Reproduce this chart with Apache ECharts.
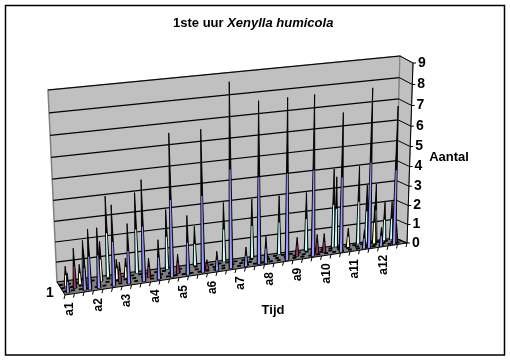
<!DOCTYPE html>
<html>
<head>
<meta charset="utf-8">
<style>html,body{margin:0;padding:0;background:#fff}#c{width:510px;height:360px}</style>
<script src="https://cdn.jsdelivr.net/npm/echarts@6/dist/echarts.min.js"></script>
</head>
<body>
<div id="c"></div>
<script>
// --- data ---
const timeLabels = ['a1','a2','a3','a4','a5','a6','a7','a8','a9','a10','a11','a12'];
const valueTicks = [0,1,2,3,4,5,6,7,8,9];
const depthLabel = '1';
const titlePlain = '1ste uur ';
const titleItalic = 'Xenylla humicola';
const xName = 'Tijd';
const yName = 'Aantal';
// each series: [position on the Tijd axis, count]
const seriesBlue = [[0.42,1],[2.21,2],[2.74,3],[3.69,3],[5.27,4],[6.85,3],[8.43,5],[10.01,2],[11.39,7],[13.07,3],[14.65,7],[16.13,1],[17.6,9],[19.19,1],[20.56,8],[21.29,1.4],[23.51,8],[26.25,8],[29.2,7],[31.63,1],[32.15,8],[33.42,1],[34.79,7]];
const seriesMaroon = [[1.37,2],[2.96,1],[6.13,1],[9.2,1],[12.26,1],[15.33,0.5],[24.85,1],[26.96,1],[27.7,1],[35.31,1]];
const seriesCream = [[0.64,1],[2.12,1],[4.35,2],[6.04,1],[7,1],[30.54,1],[33.3,2]];
const seriesCyan = [[2.77,2],[5.32,4],[8.4,4],[11.6,3],[14.57,2],[17.66,3],[20.64,3],[23.51,3],[26.38,3],[29.26,4],[29.55,3.6],[31.91,4],[32.77,3],[33.72,3],[34.68,2],[35.43,2]];

// --- 3D box layout (pixels of the box corners) ---
const BOX = {
  fbl:[65,295], fbr:[407,243], ftl:[56,102], ftr:[413,63],
  bbl:[57,282], bbr:[395,238], btl:[48,90], btr:[400,56]
};
const X_MAX = 36, Y_MAX = 9, SPIKE_HALF = 0.2, CORE_HALF = 0.12, CORE_TOP_HALF = 0.055, CORE_SHARE = 0.55;
const lerp = (a,b,t)=>[a[0]+(b[0]-a[0])*t, a[1]+(b[1]-a[1])*t];
function proj(u,d,t){
  t = t + 0.08*t*(t-1);
  const f = lerp(lerp(BOX.fbl,BOX.fbr,u), lerp(BOX.ftl,BOX.ftr,u), t);
  const b = lerp(lerp(BOX.bbl,BOX.bbr,u), lerp(BOX.btl,BOX.btr,u), t);
  return lerp(f,b,d);
}
// data -> pixel: goes through the hidden cartesian axes, then through the box
function mapper(params,api){
  const cs = params.coordSys;
  return (x,d,v)=>{
    const p = api.coord([x,v]);
    return proj((p[0]-cs.x)/cs.width, d, (cs.y+cs.height-p[1])/cs.height);
  };
}
const FONT = '"Liberation Sans", Arial, sans-serif';
const line = (a,b,stroke,w,dash)=>({type:'line',silent:true,shape:{x1:a[0],y1:a[1],x2:b[0],y2:b[1]},style:{stroke,lineWidth:w,lineDash:dash||null}});
const poly = (pts,fill,stroke,w)=>({type:'polygon',silent:true,shape:{points:pts},style:{fill,stroke,lineWidth:w,lineJoin:'miter',miterLimit:30}});
const txt = (x,y,text,size,rot,align,va)=>({type:'text',silent:true,x,y,rotation:rot||0,style:{text,x:0,y:0,font:'bold '+size+'px '+FONT,fill:'#000',align:align||'center',verticalAlign:va||'middle'}});

function spikeSeries(name,data,depth,color){
  return {
    type:'custom',name,coordinateSystem:'cartesian2d',silent:true,animation:false,clip:false,
    data,encode:{x:0,y:1},
    renderItem(params,api){
      const m = mapper(params,api);
      const x = api.value(0), v = api.value(1), h = v*CORE_SHARE;
      return {type:'group',children:[
        poly([m(x-SPIKE_HALF,depth,0), m(x,depth,v), m(x+SPIKE_HALF,depth,0)],'#000','#000',0.9),
        poly([m(x-CORE_HALF,depth,0), m(x-CORE_TOP_HALF,depth,h), m(x+CORE_TOP_HALF,depth,h), m(x+CORE_HALF,depth,0)],color,null,0)
      ]};
    }
  };
}
const frame = {
  type:'custom',name:'frame',coordinateSystem:'cartesian2d',silent:true,animation:false,clip:false,
  data:[[0,0]],
  renderItem(params,api){
    const m = mapper(params,api), c=[];
    // walls and floor
    c.push(poly([m(0,1,Y_MAX),m(X_MAX,1,Y_MAX),m(X_MAX,1,0),m(0,1,0)],'#c0c0c0','#808080',1.5));
    c.push(poly([m(X_MAX,1,Y_MAX),m(X_MAX,0,Y_MAX),m(X_MAX,0,0),m(X_MAX,1,0)],'#c0c0c0','#808080',1));
    c.push(poly([m(0,0,0),m(X_MAX,0,0),m(X_MAX,1,0),m(0,1,0)],'#808080','#000',1));
    [0.25,0.5,0.75].forEach((d,i)=>c.push(line(m(0,d,0),m(X_MAX,d,0),'#000',1.8,[4,4+i%2])));
    // value gridlines and ticks
    valueTicks.forEach(v=>{
      if(v>0){
        c.push(line(m(0,1,v),m(X_MAX,1,v),'#000',1.2));
      }
      c.push(line(m(X_MAX,1,v),m(X_MAX,0,v),'#000',1));
      const e = m(X_MAX,0,v);
      c.push(line(e,[e[0]+3,e[1]],'#000',1));
      c.push(txt(e[0]+5,e[1],String(v),14,0,'left'));
    });
    c.push(line(m(X_MAX,0,0),m(X_MAX,0,Y_MAX),'#000',1));
    // Tijd ticks and labels
    for(let i=0;i<=X_MAX;i++){
      const p = m(i,0,0);
      c.push(line(p,[p[0]-1,p[1]+4],'#000',1));
    }
    timeLabels.forEach((t,i)=>{
      const p = m(0.4+i*3,0,0);
      c.push(txt(p[0]+1,p[1]+8,t,12,Math.PI/2,'right'));
    });
    const o = m(0,0,0);
    c.push(txt(o[0]-15,o[1]-2,depthLabel,14,0,'center'));
    return {type:'group',children:c};
  }
};

const chart = echarts.init(document.getElementById('c'),null,{renderer:'canvas'});
chart.setOption({
  animation:false,
  backgroundColor:'#fff',
  title:{
    text:'{b|'+titlePlain+'}{i|'+titleItalic+'}',
    left:173,top:17,padding:0,
    textStyle:{rich:{
      b:{fontFamily:'Liberation Sans',fontWeight:'bold',fontSize:13,fontStyle:'normal',color:'#000'},
      i:{fontFamily:'Liberation Sans',fontWeight:'bold',fontSize:13,fontStyle:'italic',color:'#000'}
    }}
  },
  grid:{left:60,right:100,top:60,bottom:60,show:false},
  xAxis:{type:'value',min:0,max:X_MAX,show:false},
  yAxis:{type:'value',min:0,max:Y_MAX,show:false},
  graphic:[
    {type:'rect',silent:true,z:100,shape:{x:5.5,y:5.5,width:499,height:349.5},style:{fill:'none',stroke:'#000',lineWidth:1.5}},
    {type:'text',silent:true,z:100,x:273,y:310,style:{text:xName,font:'bold 13px '+FONT,fill:'#000',align:'center',verticalAlign:'middle'}},
    {type:'text',silent:true,z:100,x:449,y:157,style:{text:yName,font:'bold 13px '+FONT,fill:'#000',align:'center',verticalAlign:'middle'}}
  ],
  series:[
    frame,
    spikeSeries('s4',seriesCyan,0.875,'#ccffff'),
    spikeSeries('s3',seriesCream,0.625,'#ffffcc'),
    spikeSeries('s2',seriesMaroon,0.375,'#993366'),
    spikeSeries('s1',seriesBlue,0.125,'#9999ff')
  ]
});
</script>
</body>
</html>
